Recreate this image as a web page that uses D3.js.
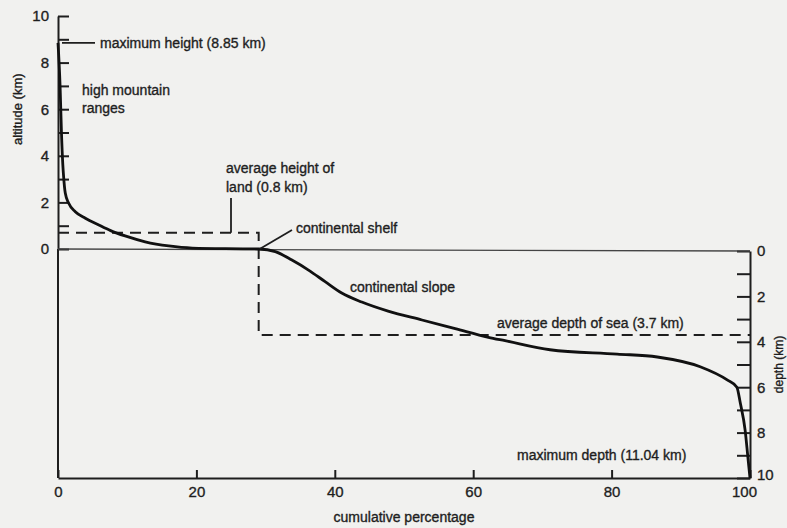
<!DOCTYPE html>
<html>
<head>
<meta charset="utf-8">
<script src="https://cdnjs.cloudflare.com/ajax/libs/d3/7.8.5/d3.min.js"></script>
<style>
  body { margin: 0; background: #f1f1ef; }
  svg { display: block; }
  text { font-family: "Liberation Sans", Arial, sans-serif; fill: #1e1e1e; stroke: #1e1e1e; stroke-width: 0.35px; }
</style>
</head>
<body>
<div class="canvas"></div>
<script>
// data
const landPct = [0, 0.3, 0.5, 0.7, 0.8, 1.05, 1.55, 2.5, 3.95, 5.9, 7.6, 9.7, 12.6, 16, 19.4, 29];
const landAlt = [8.85, 7, 5, 3.6, 3.15, 2.4, 1.96, 1.6, 1.32, 1.03, 0.79, 0.56, 0.31, 0.13, 0.04, 0];
const seaPct = [29, 31.4, 33.8, 36.2, 38.6, 41, 43.9, 47.7, 52.6, 57.4, 62.2, 64.6, 71.1, 80.8, 86.6, 92.8, 96.7, 98.1, 98.6, 99.3, 99.7, 100];
const seaDepth = [0, 0.03, 0.4, 0.84, 1.35, 1.85, 2.25, 2.65, 3.04, 3.42, 3.8, 3.95, 4.35, 4.54, 4.67, 5.1, 5.68, 6.0, 6.7, 7.9, 9.1, 10];
const pctTicks = [0, 20, 40, 60, 80, 100];
const kmTicks = [0, 1, 2, 3, 4, 5, 6, 7, 8, 9, 10];
const avgLand = 0.7;      // where the dashed line is drawn
const avgSea = 3.7;
const shelfPct = 29;

//1. dimensions
const width = 787, height = 528;
const plotLeft = 58, plotRight = 750, seaY = 249, plotBottom = 478, plotTop = 16;

//2. svg
const svg = d3.select('.canvas').append('svg')
    .attr('width', width)
    .attr('height', height);

//3. scales
const x = d3.scaleLinear().domain([0, 100]).range([plotLeft, plotRight]);
const yAlt = d3.scaleLinear().domain([0, 10]).range([seaY, plotTop]);
const yDepth = d3.scaleLinear().domain([0, 10]).range([seaY + 2, plotBottom]);

const evenOnly = d => d % 2 === 0 ? d : '';

//4. axes
const altAxis = svg.append('g')
    .attr('transform', `translate(${plotLeft},0)`)
    .call(d3.axisLeft(yAlt).tickValues(kmTicks).tickFormat(evenOnly)
        .tickSizeInner(-11).tickSizeOuter(0).tickPadding(9));

const pctAxis = svg.append('g')
    .attr('transform', `translate(0,${plotBottom})`)
    .call(d3.axisBottom(x).tickValues(pctTicks)
        .tickSizeInner(-8).tickSizeOuter(0).tickPadding(8));

const depthAxis = svg.append('g')
    .attr('transform', `translate(${plotRight},0)`)
    .call(d3.axisRight(yDepth).tickValues(kmTicks).tickFormat(evenOnly)
        .tickSizeInner(-13).tickSizeOuter(0).tickPadding(7));

[altAxis, pctAxis, depthAxis].forEach(g => {
    g.selectAll('path, line').attr('stroke', '#1e1e1e').attr('stroke-width', 2);
    g.selectAll('text').attr('font-size', 15).attr('fill', '#1e1e1e')
        .style('font-family', '"Liberation Sans", Arial, sans-serif');
});
// 100 sits a bit left, 10 a bit up on the depth axis
pctAxis.selectAll('.tick text').filter(d => d === 100).attr('dx', -6);
depthAxis.selectAll('.tick text').filter(d => d === 10).attr('dy', '0.1em');

// left border below sea level
svg.append('line')
    .attr('x1', plotLeft).attr('x2', plotLeft)
    .attr('y1', seaY).attr('y2', plotBottom)
    .attr('stroke', '#1e1e1e').attr('stroke-width', 2);

// sea level line
svg.append('line')
    .attr('x1', plotLeft).attr('x2', plotRight)
    .attr('y1', seaY).attr('y2', seaY + 2)
    .attr('stroke', '#444').attr('stroke-width', 1.3);

//5. dashed averages
const dash = '11,7';
svg.append('path')
    .attr('d', `M${plotLeft},${yAlt(avgLand)}H${x(shelfPct)}V${yDepth(avgSea)}H${plotRight}`)
    .attr('fill', 'none')
    .attr('stroke', '#1e1e1e')
    .attr('stroke-width', 2)
    .attr('stroke-dasharray', dash);

//6. hypsometric curve
const pts = landPct.map((p, i) => [x(p), yAlt(landAlt[i])])
    .concat(seaPct.slice(1).map((p, i) => [x(p), yDepth(seaDepth[i + 1])]));

svg.append('path')
    .datum(pts)
    .attr('d', d3.line().curve(d3.curveMonotoneX))
    .attr('fill', 'none')
    .attr('stroke', '#111')
    .attr('stroke-width', 2.8)
    .attr('stroke-linejoin', 'round');

//7. annotations
const leader = (x1, y1, x2, y2) => svg.append('line')
    .attr('x1', x1).attr('y1', y1).attr('x2', x2).attr('y2', y2)
    .attr('stroke', '#1e1e1e').attr('stroke-width', 1.8);

const label = (tx, ty, s, anchor) => svg.append('text')
    .attr('x', tx).attr('y', ty)
    .attr('font-size', 14)
    .attr('text-anchor', anchor || 'start')
    .text(s);

leader(x(0) + 4, yAlt(8.85), 95, yAlt(8.85));
label(100, yAlt(8.85) + 5, 'maximum height (8.85 km)');
label(82, 95, 'high mountain');
label(82, 113, 'ranges');

label(226, 173, 'average height of');
label(226, 192, 'land (0.8 km)');
leader(231, 198, 231, yAlt(avgLand));

leader(x(shelfPct) + 1, seaY, 292, 230);
label(296, 233, 'continental shelf');
label(350, 292, 'continental slope');
label(497, 328, 'average depth of sea (3.7 km)');
label(517, 460, 'maximum depth (11.04 km)');

label((plotLeft + plotRight) / 2, 522, 'cumulative percentage', 'middle');

svg.append('text')
    .attr('transform', `translate(22,${yAlt(6)}) rotate(-90)`)
    .attr('font-size', 13)
    .attr('text-anchor', 'middle')
    .text('altitude (km)');

svg.append('text')
    .attr('transform', `translate(783,${yDepth(5)}) rotate(-90)`)
    .attr('font-size', 12)
    .attr('text-anchor', 'middle')
    .text('depth (km)');
</script>
</body>
</html>
